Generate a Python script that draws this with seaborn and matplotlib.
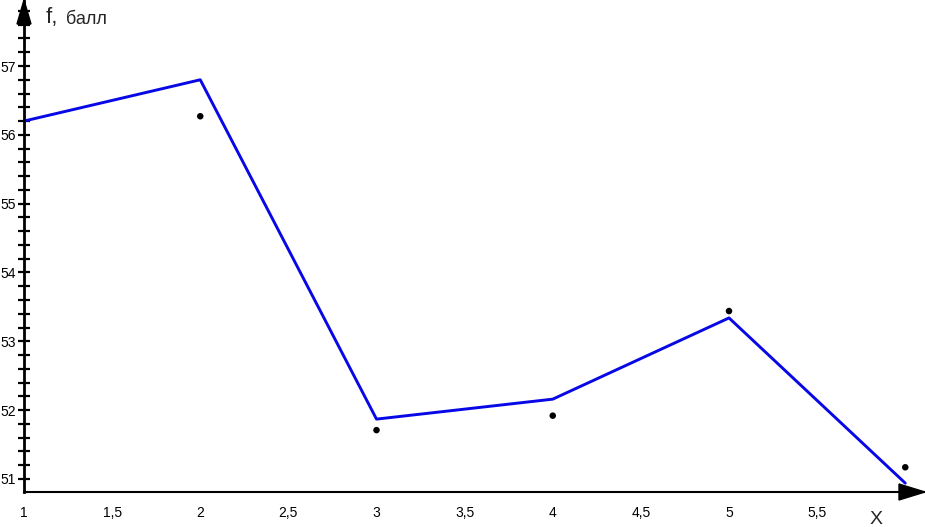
import numpy as np
import pandas as pd
import matplotlib
matplotlib.use("Agg")
import matplotlib.pyplot as plt
import matplotlib.ticker as mticker
from matplotlib.patches import Polygon
import seaborn as sns

# data
x_vals = [1, 2, 3, 4, 5, 6]
line_vals = [56.20, 56.80, 51.87, 52.16, 53.34, 50.94]
dot_x = [2, 3, 4, 5, 6]
dot_vals = [56.27, 51.71, 51.92, 53.44, 51.17]
x_ticks = [1, 1.5, 2, 2.5, 3, 3.5, 4, 4.5, 5, 5.5]
x_tick_labels = ['1', '1,5', '2', '2,5', '3', '3,5', '4', '4,5', '5', '5,5']
y_ticks = [51, 52, 53, 54, 55, 56, 57]
y_tick_labels = ['51', '52', '53', '54', '55', '56', '57']

df_line = pd.DataFrame({'x': x_vals, 'f': line_vals})
df_dots = pd.DataFrame({'x': dot_x, 'f': dot_vals})

sns.set_style("white")
plt.rcParams['font.family'] = ['Liberation Sans', 'DejaVu Sans']

W, H = 925, 527
fig = plt.figure(figsize=(W / 100, H / 100), dpi=100)
ax_left, ax_bottom = 24, 492  # pixel position of the axes origin
ax = fig.add_axes([ax_left / W, (H - ax_bottom) / H, 1 - ax_left / W, ax_bottom / H])
ax.set_facecolor('none')

sns.lineplot(data=df_line, x='x', y='f', ax=ax, color='#0808e6', linewidth=2.1)
sns.scatterplot(data=df_dots, x='x', y='f', ax=ax, color='black', s=22, edgecolor='none')

ax.set_xlim(1, 6.112)
ax.set_ylim(50.811, 57.959)

ax.set_xticks(x_ticks)
ax.set_xticklabels(x_tick_labels)
ax.set_yticks(y_ticks)
ax.set_yticklabels(y_tick_labels)
ax.yaxis.set_minor_locator(mticker.MultipleLocator(0.2))

ax.tick_params(axis='x', which='major', direction='inout', length=10, width=1.2,
               pad=5, labelsize=10, colors='black')
ax.tick_params(axis='y', which='both', direction='inout', length=8, width=1.6,
               pad=2, labelsize=10, colors='black', left=True)
ax.set_xlabel('')
ax.set_ylabel('')

for side in ['top', 'right']:
    ax.spines[side].set_visible(False)
ax.spines['left'].set_linewidth(2)
ax.spines['bottom'].set_linewidth(1.5)
ax.spines['left'].set_color('black')
ax.spines['bottom'].set_color('black')

# arrow heads on the axes (figure pixel coordinates)
def px(x, y):
    return (x / W, 1 - y / H)

fig.patches.append(Polygon([px(925, ax_bottom), px(899, ax_bottom - 8), px(899, ax_bottom + 8)],
                           closed=True, color='black', transform=fig.transFigure))
fig.patches.append(Polygon([px(ax_left, 0), px(ax_left - 7, 24), px(ax_left + 7, 24)],
                           closed=True, color='black', transform=fig.transFigure))

fig.text(46 / W, 1 - 18 / H, 'f,', fontsize=16, va='center', ha='left')
fig.text(66 / W, 1 - 19 / H, 'балл', fontsize=13, va='center', ha='left')
fig.text(876 / W, 1 - 519 / H, 'X', fontsize=14, va='center', ha='center')

fig.savefig('out.png', dpi=100)
